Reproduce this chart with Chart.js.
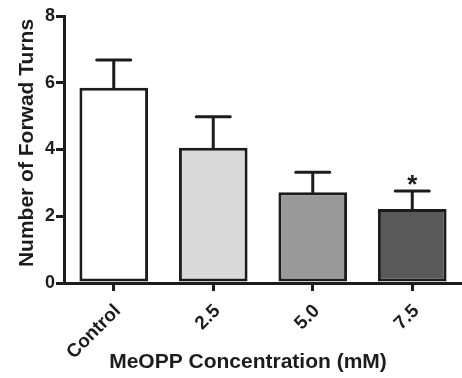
<!DOCTYPE html>
<html>
<head>
<meta charset="utf-8">
<script src="https://cdn.jsdelivr.net/npm/chart.js@4/dist/chart.umd.min.js"></script>
<style>
  body { margin: 0; background: #fff; overflow: hidden; }
  #chart { display: block; }
</style>
</head>
<body>
<canvas id="chart" width="462" height="378"></canvas>
<script>
// Data
const categories = ['Control', '2.5', '5.0', '7.5'];
const meanTurns = [5.85, 4.05, 2.72, 2.22];
const semTurns = [0.83, 0.93, 0.60, 0.54];
const significant = [false, false, false, true];
const yTicks = [0, 2, 4, 6, 8];

const barColors = ['#ffffff', '#d9d9d9', '#999999', '#595959'];
const ink = '#1c1c1c';
const fontFamily = "Arial, 'Liberation Sans', sans-serif";

// Error bars (upper only) and the significance star
const errorBars = {
    id: 'errorBars',
    afterDatasetsDraw(chart) {
        const ctx = chart.ctx;
        const yScale = chart.scales.y;
        const meta = chart.getDatasetMeta(0);
        ctx.save();
        ctx.strokeStyle = ink;
        ctx.lineWidth = 3;
        ctx.lineCap = 'round';
        meta.data.forEach((bar, i) => {
            const yTop = yScale.getPixelForValue(meanTurns[i] + semTurns[i]);
            const yBar = yScale.getPixelForValue(meanTurns[i]);
            ctx.beginPath();
            ctx.moveTo(bar.x, yBar);
            ctx.lineTo(bar.x, yTop);
            ctx.moveTo(bar.x - 17, yTop);
            ctx.lineTo(bar.x + 17, yTop);
            ctx.stroke();
            if (significant[i]) {
                ctx.fillStyle = ink;
                ctx.font = 'bold 26px ' + fontFamily;
                ctx.textAlign = 'center';
                ctx.textBaseline = 'alphabetic';
                const m = ctx.measureText('*');
                const mid = (m.actualBoundingBoxAscent - m.actualBoundingBoxDescent) / 2;
                ctx.fillText('*', bar.x, yTop - 11 + mid);
            }
        });
        ctx.restore();
    }
};

// Axis titles
const axisTitles = {
    id: 'axisTitles',
    afterDraw(chart) {
        const ctx = chart.ctx;
        ctx.save();
        ctx.fillStyle = ink;
        ctx.font = 'bold 21px ' + fontFamily;
        ctx.textAlign = 'center';
        ctx.textBaseline = 'alphabetic';
        ctx.fillText('MeOPP Concentration (mM)', 248, 368);
        ctx.translate(33, 143);
        ctx.rotate(-Math.PI / 2);
        ctx.fillText('Number of Forwad Turns', 0, 0);
        ctx.restore();
    }
};

new Chart(document.getElementById('chart'), {
    type: 'bar',
    data: {
        labels: categories,
        datasets: [{
            data: meanTurns,
            backgroundColor: barColors,
            borderColor: ink,
            borderWidth: 3,
            borderSkipped: false,
            barPercentage: 0.69,
            categoryPercentage: 1
        }]
    },
    options: {
        responsive: false,
        animation: false,
        devicePixelRatio: 1,
        layout: { padding: { top: 16, right: 0, left: 0, bottom: 0 } },
        plugins: {
            legend: { display: false },
            tooltip: { enabled: false }
        },
        scales: {
            x: {
                z: 1,
                grid: {
                    offset: false,
                    drawOnChartArea: false,
                    tickLength: 8,
                    lineWidth: 3,
                    color: ink
                },
                border: { display: true, width: 3, color: ink },
                ticks: {
                    minRotation: 45,
                    maxRotation: 45,
                    padding: 9,
                    labelOffset: 4,
                    color: ink,
                    font: { family: fontFamily, size: 19, weight: 'bold' }
                },
                afterFit(scale) { scale.height = 95; }
            },
            y: {
                z: 1,
                min: 0,
                max: 8,
                afterBuildTicks(scale) {
                    scale.ticks = yTicks.map(v => ({ value: v }));
                },
                grid: {
                    drawOnChartArea: false,
                    tickLength: 8,
                    lineWidth: 3,
                    color: ink
                },
                border: { display: true, width: 3, color: ink },
                ticks: {
                    padding: 1,
                    color: ink,
                    font: { family: fontFamily, size: 18, weight: 'bold' }
                },
                afterFit(scale) { scale.width = 64; }
            }
        }
    },
    plugins: [errorBars, axisTitles]
});
</script>
</body>
</html>
